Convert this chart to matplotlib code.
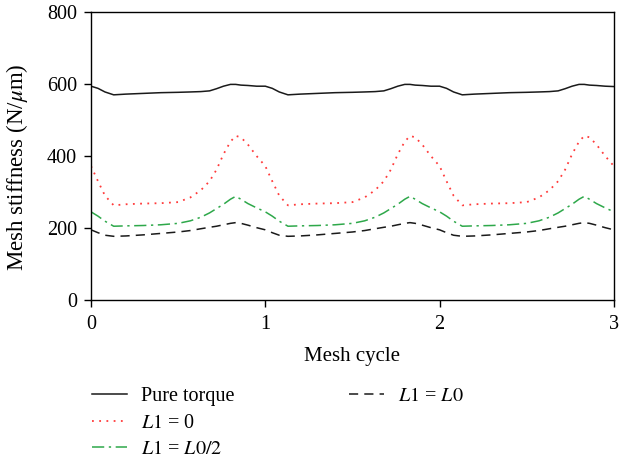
import numpy as np
from matplotlib import pyplot as plt
from matplotlib.lines import Line2D

# one mesh cycle sampled at these phases, three cycles shown
phase = [0, 0.04, 0.08, 0.13, 0.2, 0.3, 0.4, 0.5, 0.57, 0.63, 0.68, 0.72, 0.76, 0.80, 0.83, 0.86, 0.9, 0.95]
cycle_x = phase + [1 + p for p in phase] + [2 + p for p in phase] + [3.0]

pure_torque = [594, 588, 578, 570, 572, 574, 576, 577, 578, 579, 581, 587, 594, 599, 599, 597, 596, 594,
               594, 588, 578, 570, 572, 574, 576, 577, 578, 579, 581, 587, 594, 599, 599, 597, 596, 594,
               594, 588, 578, 570, 572, 574, 576, 577, 578, 579, 581, 587, 594, 599, 599, 597, 596, 594,
               593]
l1_zero = [372, 330, 290, 263, 266, 268, 269, 272, 285, 305, 330, 362, 405, 440, 456, 452, 432, 400,
           372, 330, 290, 263, 266, 268, 269, 272, 285, 305, 330, 362, 405, 440, 456, 452, 432, 400,
           372, 330, 290, 263, 266, 268, 269, 272, 285, 305, 330, 362, 405, 440, 456, 452, 432, 400,
           372]
l1_half = [245, 233, 219, 205, 206, 207, 209, 213, 220, 230, 242, 254, 266, 280, 288, 280, 268, 256,
           245, 233, 219, 205, 206, 207, 209, 213, 220, 230, 242, 254, 266, 280, 288, 280, 268, 256,
           245, 233, 219, 205, 206, 207, 209, 213, 220, 230, 242, 254, 266, 280, 288, 280, 268, 256,
           245]
l1_full = [195, 187, 180, 177, 178, 181, 185, 189, 193, 198, 202, 205, 209, 213, 215, 213, 208, 201,
           195, 187, 180, 177, 178, 181, 185, 189, 193, 198, 202, 205, 209, 213, 215, 213, 208, 201,
           195, 187, 180, 177, 178, 181, 185, 189, 193, 198, 202, 205, 209, 213, 215, 213, 208, 201,
           195]

plt.rcParams['font.family'] = ['Liberation Serif', 'DejaVu Serif']
plt.rcParams['mathtext.fontset'] = 'stix'

fig = plt.figure(figsize=(6.33, 4.63), dpi=100)
ax = fig.add_axes([0.1438, 0.352, 0.826, 0.622])

ax.plot(cycle_x, pure_torque, color='#1a1a1a', lw=1.1, ls='-')
ax.plot(cycle_x, l1_zero, color='#ff3b3b', lw=1.3, ls=(0, (1, 3)))
ax.plot(cycle_x, l1_half, color='#2ea84a', lw=1.1, ls=(0, (8, 3, 1.5, 3)))
ax.plot(cycle_x, l1_full, color='#1a1a1a', lw=1.1, ls=(0, (6, 4)))

ax.set_xlim(0, 3)
ax.set_ylim(0, 800)
ax.set_xticks([0, 1, 2, 3])
ax.set_yticks([0, 200, 400, 600, 800])
ax.tick_params(direction='out', length=5, width=1, labelsize=14.5)
ax.tick_params(axis='x', pad=6)
ax.tick_params(axis='y', pad=5)
for s in ax.spines.values():
    s.set_linewidth(1.0)
ax.set_xlabel('Mesh cycle', fontsize=15, labelpad=9)
ax.set_ylabel(r'Mesh stiffness (N/$\mu$m)', fontsize=16.5)
ax.yaxis.set_label_coords(-0.117, 0.462)

blank = Line2D([], [], color='none')
handles = [
    Line2D([], [], color='#1a1a1a', lw=1.1, ls='-'),
    Line2D([], [], color='#ff3b3b', lw=1.3, ls=(0, (1, 3))),
    Line2D([], [], color='#2ea84a', lw=1.1, ls=(0, (8, 3, 1.5, 3))),
    Line2D([], [], color='#1a1a1a', lw=1.1, ls=(0, (6, 4))),
    blank, blank,
]
labels = ['Pure torque', r'$\mathit{L1}$ = 0', r'$\mathit{L1}$ = $\mathit{L0/2}$',
          r'$\mathit{L1}$ = $\mathit{L0}$', '', '']
fig.legend(handles, labels, ncol=2, loc='upper left', bbox_to_anchor=(0.133, 0.181),
           frameon=False, fontsize=14.5, handlelength=1.75, handletextpad=0.66,
           columnspacing=5.7, labelspacing=0.36, borderaxespad=0)

fig.savefig('out.png', dpi=100)
